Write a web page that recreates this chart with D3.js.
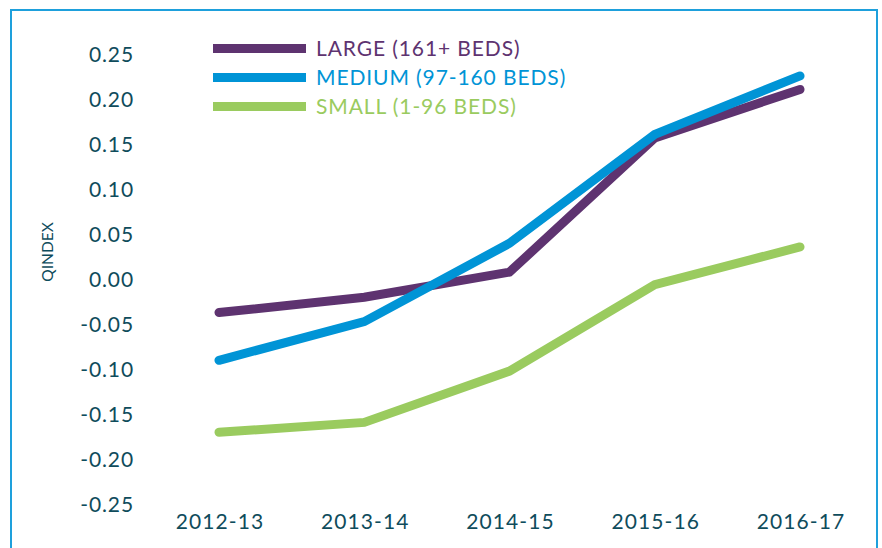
<!DOCTYPE html>
<html>
<head>
<meta charset="utf-8">
<script src="https://cdn.jsdelivr.net/npm/d3@7"></script>
<style>
  html, body { margin: 0; padding: 0; background: #fff; }
  svg { display: block; }
  text { font-family: Lato, "Open Sans", sans-serif; }
</style>
</head>
<body>
<svg id="chart" width="882" height="548"></svg>
<script>
const categories = ["2012-13", "2013-14", "2014-15", "2015-16", "2016-17"];
const large  = [-0.037, -0.020, 0.008, 0.157, 0.211];
const medium = [-0.090, -0.047, 0.040, 0.161, 0.226];
const small  = [-0.170, -0.159, -0.102, -0.006, 0.036];
const seriesNames = ["LARGE (161+ BEDS)", "MEDIUM (97-160 BEDS)", "SMALL (1-96 BEDS)"];
const yTicks = [0.25, 0.20, 0.15, 0.10, 0.05, 0.00, -0.05, -0.10, -0.15, -0.20, -0.25];
const yLabel = "QINDEX";

const colors = ["#5e3370", "#0094d6", "#9acb5f"];
const textColor = "#0f4c5c";
const borderColor = "#1ea0dc";

const series = [
  { name: seriesNames[0], values: large, color: colors[0] },
  { name: seriesNames[1], values: medium, color: colors[1] },
  { name: seriesNames[2], values: small, color: colors[2] }
];

const svg = d3.select("#chart");

// frame
svg.append("path")
  .attr("d", "M11,560 L11,10 L877,10 L877,560")
  .attr("fill", "none")
  .attr("stroke", borderColor)
  .attr("stroke-width", 2);

const x = d3.scalePoint().domain(categories).range([219, 800]);
const y = d3.scaleLinear().domain([-0.25, 0.25]).range([504.3, 54.3]);

// y axis
const yAxis = d3.axisLeft(y).tickValues(yTicks).tickFormat(d3.format(".2f")).tickSize(0).tickPadding(0);
const gy = svg.append("g").attr("transform", "translate(134,0)").call(yAxis);
gy.select(".domain").remove();
gy.selectAll("text")
  .attr("fill", textColor)
  .style("font-size", "21px")
  .style("letter-spacing", "0.9px")
  .style("font-family", "Lato, sans-serif")
  .attr("dy", "0.36em")
  .text(d => d3.format(".2f")(d).replace("−", "-"));

// x axis
const xAxis = d3.axisBottom(x).tickSize(0).tickPadding(0);
const gx = svg.append("g").attr("transform", "translate(0,514)").call(xAxis);
gx.select(".domain").remove();
gx.selectAll("text")
  .attr("fill", textColor)
  .style("font-size", "21px")
  .style("letter-spacing", "1.1px")
  .style("font-family", "Lato, sans-serif")
  .attr("dx", "0.5px")
  .attr("dy", "0.72em");

// y label
svg.append("text")
  .attr("transform", "translate(53,252) rotate(-90)")
  .attr("text-anchor", "middle")
  .attr("fill", textColor)
  .style("font-size", "15.5px")
  .text(yLabel);

// lines
const line = d3.line().x((d, i) => x(categories[i])).y(d => y(d));
svg.append("g").selectAll("path").data(series).join("path")
  .attr("d", d => line(d.values))
  .attr("fill", "none")
  .attr("stroke", d => d.color)
  .attr("stroke-width", 9)
  .attr("stroke-linecap", "round")
  .attr("stroke-linejoin", "miter");

// legend
const legend = svg.append("g");
const lg = legend.selectAll("g").data(series).join("g")
  .attr("transform", (d, i) => `translate(213,${48.5 + i * 29})`);
lg.append("line")
  .attr("x1", 0).attr("x2", 93).attr("y1", 0).attr("y2", 0)
  .attr("stroke", d => d.color)
  .attr("stroke-width", 9);
lg.append("text")
  .attr("x", 103)
  .attr("dy", "0.36em")
  .attr("fill", d => d.color)
  .style("font-size", "21px")
  .style("letter-spacing", "0.9px")
  .text(d => d.name);
</script>
</body>
</html>
